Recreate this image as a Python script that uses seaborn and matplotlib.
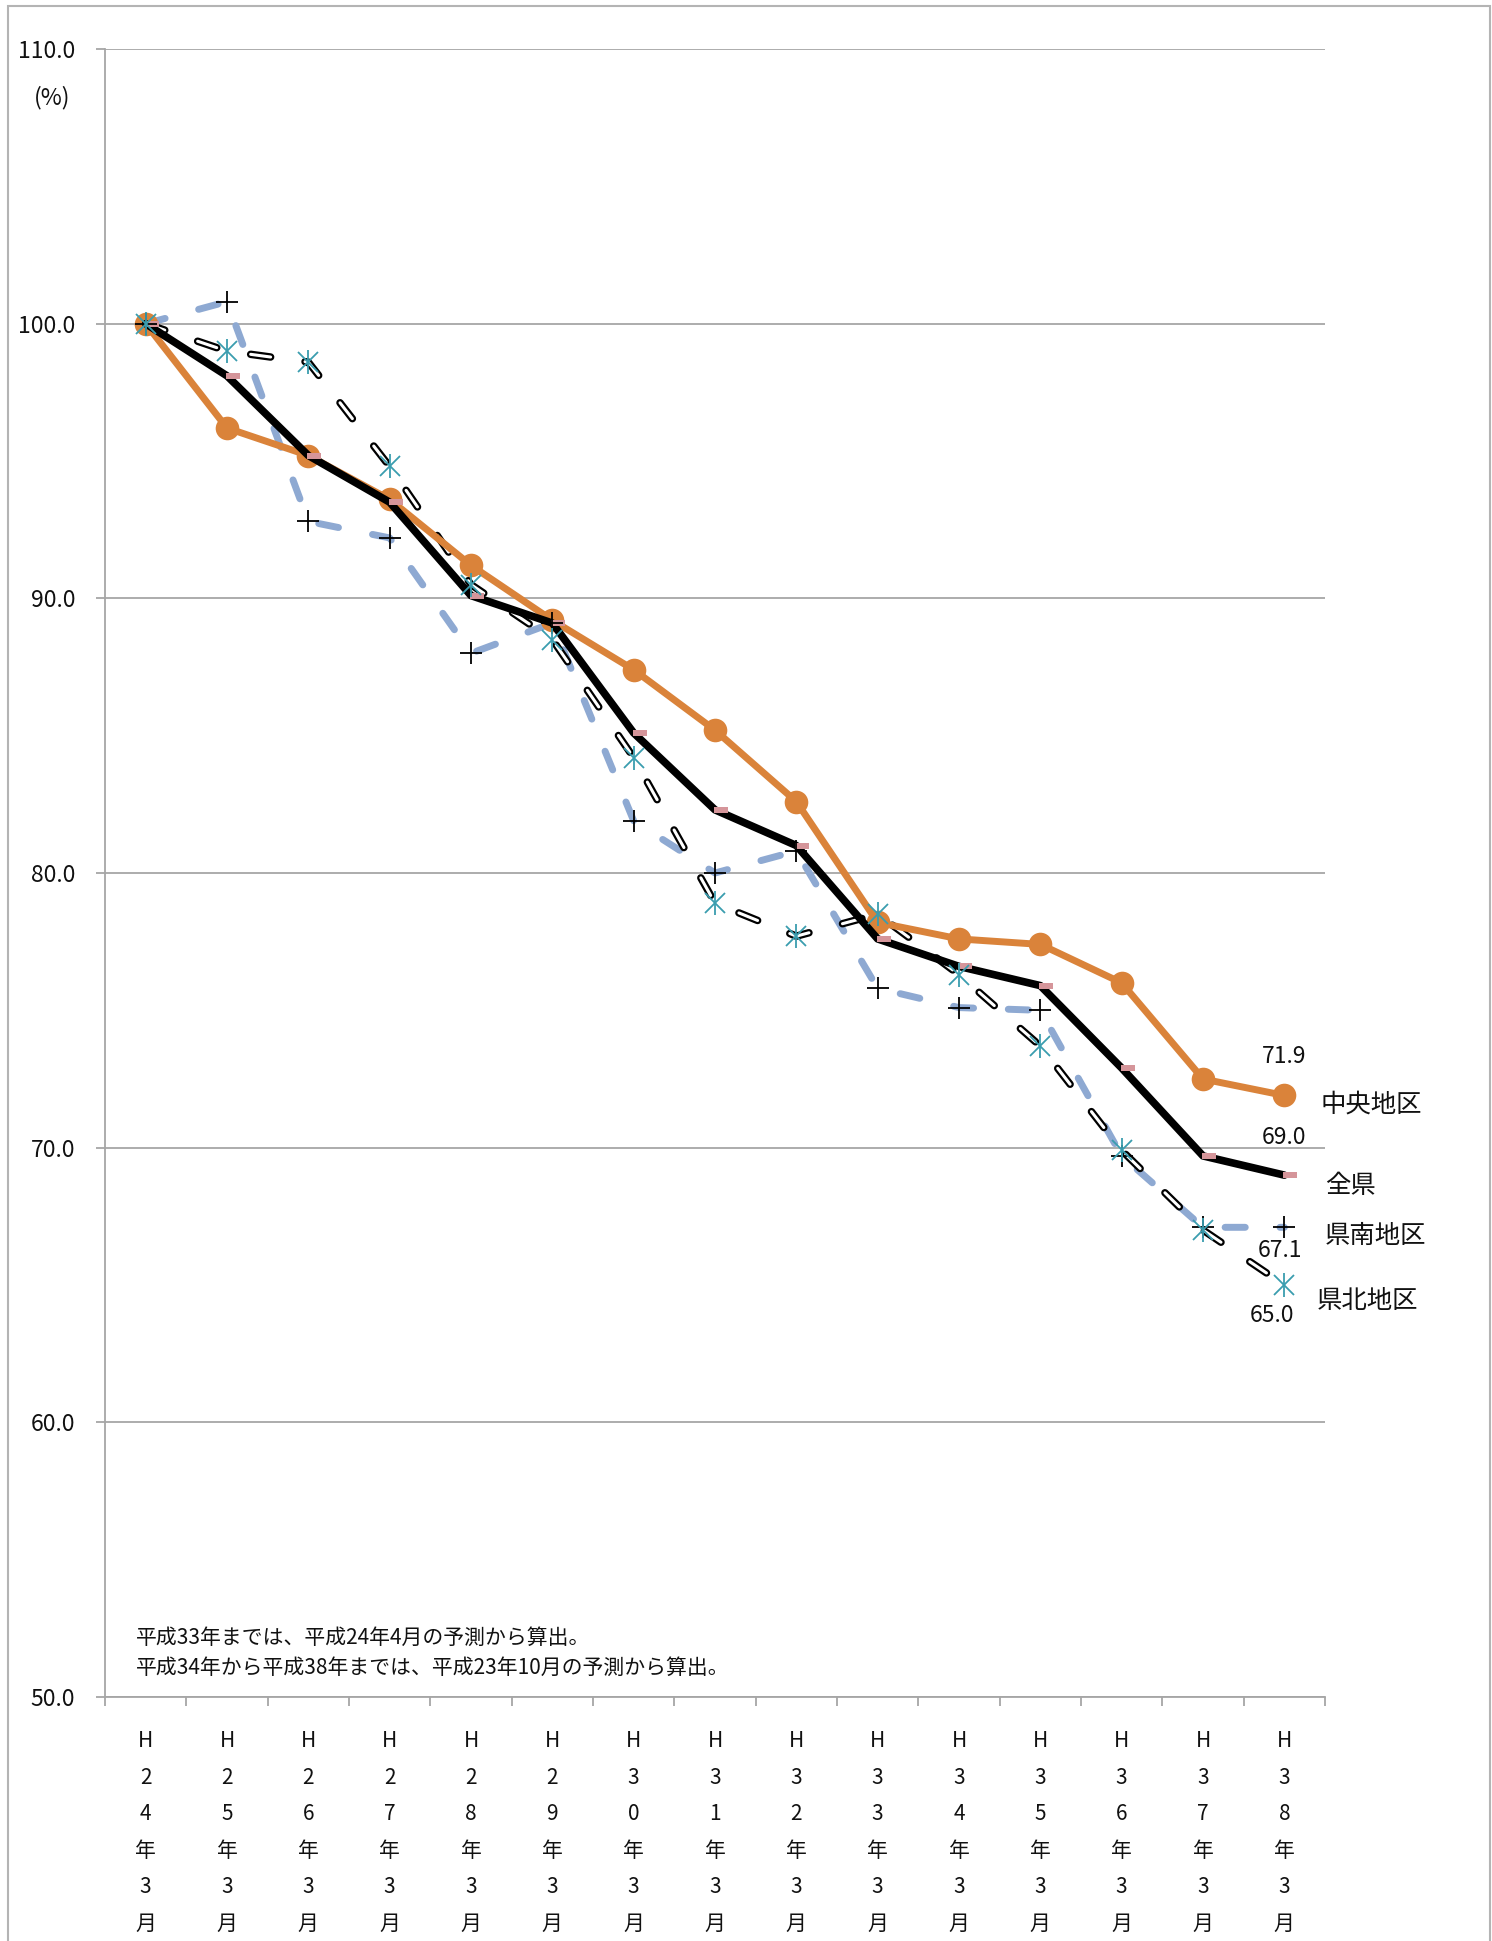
import numpy as np
import pandas as pd
import matplotlib
matplotlib.use("Agg")
import matplotlib.pyplot as plt
from matplotlib.path import Path
from matplotlib.patches import Rectangle
import seaborn as sns

# ---- data -------------------------------------------------------------
periods = ["H24年3月", "H25年3月", "H26年3月", "H27年3月", "H28年3月",
           "H29年3月", "H30年3月", "H31年3月", "H32年3月", "H33年3月",
           "H34年3月", "H35年3月", "H36年3月", "H37年3月", "H38年3月"]

chuo = [100.0, 96.2, 95.2, 93.6, 91.2, 89.2, 87.4, 85.2, 82.6, 78.2,
        77.6, 77.4, 76.0, 72.5, 71.9]
zenken = [100.0, 98.1, 95.2, 93.5, 90.1, 89.1, 85.1, 82.3, 81.0, 77.6,
          76.6, 75.9, 72.9, 69.7, 69.0]
kennan = [100.0, 100.8, 92.8, 92.2, 88.0, 89.1, 81.9, 80.0, 80.8, 75.8,
          75.1, 75.0, 69.7, 67.1, 67.1]
kenpoku = [100.0, 99.0, 98.6, 94.8, 90.5, 88.5, 84.2, 78.9, 77.7, 78.5,
           76.3, 73.7, 69.9, 67.0, 65.0]

series_names = ["中央地区", "全県", "県南地区", "県北地区"]
y_ticks = [50, 60, 70, 80, 90, 100, 110]
unit_label = "(%)"
note_lines = ["平成33年までは、平成24年4月の予測から算出。",
              "平成34年から平成38年までは、平成23年10月の予測から算出。"]

# ---- style ------------------------------------------------------------
sns.set_style("white")
plt.rcParams["font.family"] = ["Noto Sans CJK JP", "DejaVu Sans"]
plt.rcParams["lines.scale_dashes"] = False
plt.rcParams["axes.unicode_minus"] = False

ORANGE = "#DA833A"
BLUE = "#8EA9D2"
TEAL = "#3A9DAF"
PINK = "#D5959A"
GRID = "#A6A6A6"
TXT = "#111111"

DASH = (0, (14.5, 25.0))

df = pd.DataFrame({"x": np.arange(len(periods)), "period": periods,
                   "chuo": chuo, "zenken": zenken,
                   "kennan": kennan, "kenpoku": kenpoku})

fig = plt.figure(figsize=(14.92, 19.41), dpi=100)
ax = fig.add_axes([105 / 1492, 1 - 1697 / 1941, 1220 / 1492, 1648 / 1941])

common = dict(ax=ax, x="x", data=df, errorbar=None, legend=False)

# 県南地区: light blue dashed line
sns.lineplot(y="kennan", color=BLUE, linewidth=5.0, linestyle=DASH,
             dash_capstyle="round", zorder=2, **common)

# 県北地区: hollow (outlined) dashed line
sns.lineplot(y="kenpoku", color="black", linewidth=5.4, linestyle=DASH,
             dash_capstyle="round", zorder=3, **common)
sns.lineplot(y="kenpoku", color="white", linewidth=2.2, linestyle=DASH,
             dash_capstyle="round", zorder=3.1, **common)

# 中央地区: orange line with round markers
sns.lineplot(y="chuo", color=ORANGE, linewidth=5.0, marker="o",
             markersize=17, mfc=ORANGE, mec=ORANGE, mew=0,
             solid_joinstyle="round", zorder=4, **common)

# 全県: thick black line with small pink bar markers
sns.lineplot(y="zenken", color="black", linewidth=5.5,
             solid_joinstyle="round", zorder=5, **common)
bar_marker = Path([(-1, -2.6), (13, -2.6), (13, 2.6), (-1, 2.6), (-1, -2.6)],
                  [Path.MOVETO, Path.LINETO, Path.LINETO, Path.LINETO,
                   Path.CLOSEPOLY])
sns.lineplot(y="zenken", color=PINK, linestyle="", marker=bar_marker,
             markersize=18.7, mfc=PINK, mec=PINK, mew=0, zorder=6, **common)

# markers for the two dashed series
sns.lineplot(y="kennan", color="black", linestyle="", marker="+",
             markersize=16.5, mec="black", mew=1.3, zorder=7, **common)
sns.lineplot(y="kenpoku", color=TEAL, linestyle="", marker="x",
             markersize=15, mec=TEAL, mew=1.3, zorder=7, **common)
sns.lineplot(y="kenpoku", color=TEAL, linestyle="", marker="|",
             markersize=17, mec=TEAL, mew=1.3, zorder=7, **common)

# ---- axes -------------------------------------------------------------
ax.set_xlim(-0.5, len(periods) - 0.5)
ax.set_ylim(y_ticks[0], y_ticks[-1])
ax.set_xlabel("")
ax.set_ylabel("")

ax.set_yticks(y_ticks)
ax.set_yticklabels([f"{v:.1f}" for v in y_ticks], fontsize=16.5, color=TXT)
ax.tick_params(axis="y", length=6.5, width=1.3, color=GRID, pad=15,
               direction="out", left=True)
ax.yaxis.grid(True, color=GRID, linewidth=1.3)
ax.set_axisbelow(True)

ax.set_xticks(np.arange(-0.5, len(periods), 1.0))
ax.set_xticklabels([])
ax.tick_params(axis="x", which="major", length=6.5, width=1.3, color=GRID,
               direction="out", bottom=True)
ax.set_xticks(np.arange(len(periods)), minor=True)
ax.set_xticklabels(["\n".join(p) for p in periods], minor=True,
                   fontsize=15, color=TXT, linespacing=1.85)
ax.tick_params(axis="x", which="minor", length=0, pad=24)

for side in ("top", "right"):
    ax.spines[side].set_visible(False)
for side in ("left", "bottom"):
    ax.spines[side].set_color(GRID)
    ax.spines[side].set_linewidth(1.3)

# ---- labels -----------------------------------------------------------
last = len(periods) - 1
value_offsets = {"chuo": (0, 28), "zenken": (0, 27),
                 "kennan": (-3, -17), "kenpoku": (-9, -22)}
for key, (dx, dy) in value_offsets.items():
    v = df[key].iloc[-1]
    ax.annotate(f"{v:.1f}", xy=(last, v), xytext=(dx, dy),
                textcoords="offset points", ha="center", va="center",
                fontsize=16.5, color=TXT, annotation_clip=False)

name_pos = [(14.44, 71.58), (14.5, 68.6), (14.5, 66.78), (14.40, 64.4)]
for name, (nx, ny) in zip(series_names, name_pos):
    ax.text(nx, ny, name, ha="left", va="center", fontsize=18.3, color=TXT,
            clip_on=False)

fig.text(52 / 1492, 1 - 98 / 1941, unit_label, ha="center", va="center",
         fontsize=16.5, color=TXT)

for i, line in enumerate(note_lines):
    fig.text(136 / 1492, 1 - (1638 + 30 * i) / 1941, line, ha="left",
             va="center", fontsize=15, color=TXT)

# outer frame
fig.add_artist(Rectangle((8 / 1492, -0.01), 1482 / 1492, 1 + 0.01 - 6 / 1941,
                         transform=fig.transFigure, fill=False,
                         edgecolor="#B4B4B4", linewidth=1.5))

fig.savefig("out.png", dpi=100, facecolor="white")
